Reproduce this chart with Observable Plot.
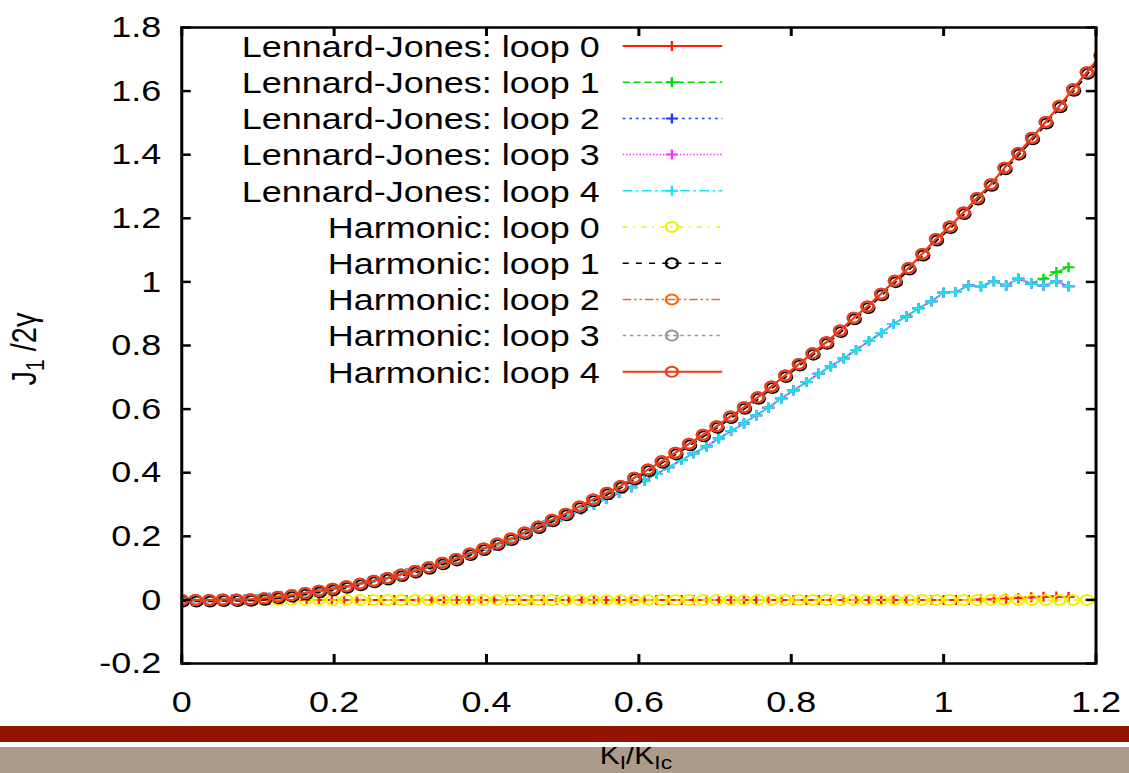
<!DOCTYPE html>
<html><head><meta charset="utf-8">
<script src="https://cdn.jsdelivr.net/npm/d3@7"></script>
<script src="https://cdn.jsdelivr.net/npm/@observablehq/plot@0.6"></script>
<style>
html,body{margin:0;padding:0;background:#fff;}
#wrap{position:relative;width:1129px;height:773px;overflow:hidden;}
#tan{position:absolute;left:0;top:747px;width:1129px;height:26px;background:#ad9b8a;z-index:0;}
#gap{position:absolute;left:0;top:742px;width:1129px;height:5px;background:#fff;z-index:2;}
#red{position:absolute;left:0;top:726px;width:1129px;height:16px;background:#931200;z-index:2;}
#chart{position:absolute;left:0;top:0;z-index:1;}
</style></head><body>
<div id="wrap"><div id="tan"></div><div id="chart"></div><div id="gap"></div><div id="red"></div></div>
<script>
// ---- data ----
const xTicks = [0, 0.2, 0.4, 0.6, 0.8, 1, 1.2];
const yTicks = [-0.2, 0, 0.2, 0.4, 0.6, 0.8, 1, 1.2, 1.4, 1.6, 1.8];

// K_I/K_Ic sample positions, Lennard-Jones runs
const ljX = [0, 0.016, 0.033, 0.049, 0.066, 0.082, 0.098, 0.115, 0.131, 0.148,
  0.164, 0.180, 0.197, 0.213, 0.230, 0.246, 0.262, 0.279, 0.295, 0.311,
  0.328, 0.344, 0.361, 0.377, 0.393, 0.410, 0.426, 0.443, 0.459, 0.475,
  0.492, 0.508, 0.525, 0.541, 0.557, 0.574, 0.590, 0.607, 0.623, 0.639,
  0.656, 0.672, 0.689, 0.705, 0.721, 0.738, 0.754, 0.770, 0.787, 0.803,
  0.820, 0.836, 0.852, 0.869, 0.885, 0.902, 0.918, 0.934, 0.951, 0.967,
  0.984, 1.000, 1.016, 1.033, 1.049, 1.066, 1.082, 1.098, 1.115, 1.131,
  1.148, 1.164];
const ljLoop0 = [0,0,0,0,0,0,0,0,0,0, 0,0,0,0,0,0,0,0,0,0, 0,0,0,0,0,0,0,0,0,0,
  0,0,0,0,0,0,0,0,0,0, 0,0,0,0,0,0,0,0,0,0, 0,0,0,0,0,0,0,0,0,0,
  0,0,0,0,0.001,0.002,0.004,0.006,0.008,0.010, 0.011,0.009];
const ljLoop4 = [0, 0, 0, 0.001, 0.001, 0.002, 0.003, 0.007, 0.011, 0.016,
  0.022, 0.029, 0.035, 0.041, 0.050, 0.058, 0.065, 0.074, 0.084, 0.094,
  0.105, 0.117, 0.129, 0.144, 0.158, 0.172, 0.186, 0.201, 0.217, 0.234,
  0.250, 0.266, 0.283, 0.300, 0.318, 0.336, 0.354, 0.375, 0.396, 0.417,
  0.440, 0.461, 0.483, 0.508, 0.531, 0.555, 0.581, 0.604, 0.634, 0.659,
  0.685, 0.711, 0.735, 0.760, 0.786, 0.814, 0.839, 0.868, 0.891, 0.917,
  0.939, 0.966, 0.968, 0.989, 0.986, 1.002, 0.989, 1.010, 0.994, 0.989,
  1.001, 0.986];
const ljLoop1 = [0, 0, 0, 0.001, 0.001, 0.002, 0.003, 0.007, 0.011, 0.016,
  0.022, 0.029, 0.035, 0.041, 0.050, 0.058, 0.065, 0.074, 0.084, 0.094,
  0.105, 0.117, 0.129, 0.144, 0.158, 0.172, 0.186, 0.201, 0.217, 0.234,
  0.250, 0.266, 0.283, 0.300, 0.318, 0.336, 0.354, 0.375, 0.396, 0.417,
  0.440, 0.461, 0.483, 0.508, 0.531, 0.555, 0.581, 0.604, 0.634, 0.659,
  0.685, 0.711, 0.735, 0.760, 0.786, 0.814, 0.839, 0.868, 0.891, 0.917,
  0.939, 0.966, 0.968, 0.989, 0.986, 1.002, 0.989, 1.010, 0.996, 1.010,
  1.031, 1.046];
const ljLoop2 = ljLoop4;
const ljLoop3 = ljLoop4;

// Harmonic runs
const hX = [0, 0.018, 0.036, 0.054, 0.072, 0.090, 0.108, 0.126, 0.144, 0.162,
  0.180, 0.198, 0.216, 0.234, 0.252, 0.270, 0.288, 0.306, 0.324, 0.342,
  0.360, 0.378, 0.396, 0.414, 0.432, 0.450, 0.468, 0.486, 0.504, 0.522,
  0.540, 0.558, 0.576, 0.594, 0.612, 0.630, 0.648, 0.666, 0.684, 0.702,
  0.720, 0.738, 0.756, 0.774, 0.792, 0.810, 0.828, 0.846, 0.864, 0.882,
  0.900, 0.918, 0.936, 0.954, 0.972, 0.990, 1.008, 1.026, 1.044, 1.062,
  1.080, 1.098, 1.116, 1.134, 1.152, 1.170, 1.188, 1.206];
const hLoop0 = [0,0,0,0,0,0,0,0,0,0, 0,0,0,0,0,0,0,0,0,0, 0,0,0,0,0,0,0,0,0,0,
  0,0,0,0,0,0,0,0,0,0, 0,0,0,0,0,0,0,0,0,0, 0,0,0,0,0,0,0,0,0,0,
  0,0,0,0,0,0,0,0];
const hLoop4 = [0, 0, 0, 0.001, 0.001, 0.002, 0.005, 0.010, 0.015, 0.022,
  0.029, 0.035, 0.043, 0.051, 0.060, 0.069, 0.080, 0.091, 0.103, 0.117,
  0.129, 0.146, 0.162, 0.177, 0.193, 0.212, 0.231, 0.252, 0.271, 0.294,
  0.316, 0.337, 0.358, 0.384, 0.410, 0.436, 0.463, 0.491, 0.519, 0.546,
  0.577, 0.606, 0.637, 0.671, 0.706, 0.742, 0.776, 0.810, 0.847, 0.887,
  0.923, 0.963, 1.004, 1.044, 1.088, 1.135, 1.174, 1.218, 1.264, 1.307,
  1.359, 1.405, 1.453, 1.503, 1.554, 1.606, 1.659, 1.712];
const hLoop1 = hLoop4, hLoop2 = hLoop4, hLoop3 = hLoop4;

const seriesNames = ["Lennard-Jones: loop 0","Lennard-Jones: loop 1","Lennard-Jones: loop 2",
  "Lennard-Jones: loop 3","Lennard-Jones: loop 4","Harmonic: loop 0","Harmonic: loop 1",
  "Harmonic: loop 2","Harmonic: loop 3","Harmonic: loop 4"];

// ---- styles ----
const colors = ["#ff1e00","#00e000","#1e3cff","#ff30ff","#18e4f0","#f2f200","#000000","#ff6410","#999999","#ee3a16"];
const dashes = [null,"6,3","2.2,3.3","1.2,1.6","8,3,2,3","4,5,1.5,5","5,6","7,2.5,2,2.5,2,2.5","3,3",null];

const plusSym = {draw(ctx, size) { const r = Math.sqrt(size / Math.PI);
  ctx.moveTo(-r, 0); ctx.lineTo(r, 0); ctx.moveTo(0, -r); ctx.lineTo(0, r); }};

const seriesData = [
  [ljX, ljLoop0], [ljX, ljLoop1], [ljX, ljLoop2], [ljX, ljLoop3], [ljX, ljLoop4],
  [hX, hLoop0], [hX, hLoop1], [hX, hLoop2], [hX, hLoop3], [hX, hLoop4]
].map(([xs, ys]) => xs.map((x, i) => ({x, y: ys[i]})));

const fmt = d => String(Math.round(d * 10) / 10);
const W = 941, H = 773, ML = 151, MR = 28, MT = 27, MB = 110;
const innerW = W - ML - MR, innerH = H - MT - MB;
const font = "'Liberation Sans', Arial, Helvetica, sans-serif";

const marks = [];
seriesData.forEach((data, k) => {
  const isLJ = k < 5;
  const off = k === 6 ? {dx: 0.8, dy: 1.5} : {};
  marks.push(Plot.line(data, {x: "x", y: "y", stroke: colors[k], strokeWidth: k === 9 || k === 0 ? 2 : 1.5,
    strokeDasharray: dashes[k], clip: true, ...off}));
  marks.push(Plot.dot(data, {x: "x", y: "y", stroke: colors[k], strokeWidth: 2, r: 5,
    symbol: isLJ ? plusSym : "circle", clip: true, ...off}));
});

const svg = Plot.plot({
  width: W, height: H, marginLeft: ML, marginRight: MR, marginTop: MT, marginBottom: MB,
  style: {background: "transparent", fontFamily: font, fontSize: "30px", overflow: "visible"},
  x: {domain: [0, 1.2]},
  y: {domain: [-0.2, 1.8]},
  marks: [
    ...marks,
    Plot.ruleX(xTicks, {x: d => d, insetTop: innerH - 9, stroke: "black", strokeWidth: 2.5}),
    Plot.ruleX(xTicks, {x: d => d, insetBottom: innerH - 9, stroke: "black", strokeWidth: 2.5}),
    Plot.ruleY(yTicks, {y: d => d, insetRight: innerW - 8, stroke: "black", strokeWidth: 2.5}),
    Plot.ruleY(yTicks, {y: d => d, insetLeft: innerW - 8, stroke: "black", strokeWidth: 2.5}),
    Plot.frame({stroke: "black", strokeWidth: 2.5}),
    Plot.axisX(xTicks, {tickSize: 0, tickPadding: 27, fontSize: 30, tickFormat: fmt, label: null, fill: "black"}),
    Plot.axisY(yTicks, {tickSize: 0, tickPadding: 17, fontSize: 30, tickFormat: fmt, label: null, fill: "black"})
  ]
});

// legend (key), drawn in the same SVG
const g = d3.select(svg).append("g").attr("font-family", font).attr("font-size", 30);
seriesNames.forEach((name, k) => {
  const y = 46 + k * 36.2;
  g.append("text").attr("x", 500).attr("y", y).attr("dy", "0.36em").attr("text-anchor", "end")
    .attr("fill", "black").text(name);
  g.append("line").attr("x1", 519).attr("x2", 602).attr("y1", y).attr("y2", y)
    .attr("stroke", colors[k]).attr("stroke-width", (k === 0 || k === 9) ? 2 : 1.5)
    .attr("stroke-dasharray", dashes[k]);
  const sym = k < 5 ? d3.symbol().type(plusSym).size(25 * Math.PI) : d3.symbol().type(d3.symbolCircle).size(25 * Math.PI);
  g.append("path").attr("transform", `translate(560,${y})`).attr("d", sym())
    .attr("fill", "none").attr("stroke", colors[k]).attr("stroke-width", 2);
});

// axis titles
const yl = d3.select(svg).append("text").attr("font-family", font).attr("font-size", 29)
  .attr("transform", "translate(30,349) rotate(-90)").attr("text-anchor", "middle").attr("fill", "black");
yl.append("tspan").text("J");
yl.append("tspan").attr("dy", 7).attr("font-size", 21).text("1");
yl.append("tspan").attr("dy", -7).text(" /2γ");

const xl = d3.select(svg).append("text").attr("font-family", font).attr("font-size", 25)
  .attr("x", ML + innerW / 2 - 2).attr("y", 764).attr("text-anchor", "middle").attr("fill", "black");
xl.append("tspan").text("K");
xl.append("tspan").attr("dy", 5).attr("font-size", 19).text("I");
xl.append("tspan").attr("dy", -5).text("/K");
xl.append("tspan").attr("dy", 5).attr("font-size", 19).text("Ic");

// the reference is horizontally stretched: show the 941-wide drawing across 1129px
svg.setAttribute("preserveAspectRatio", "none");
svg.setAttribute("width", 1129);
svg.style.width = "1129px";
svg.style.height = "773px";
svg.style.maxWidth = "none";
document.getElementById("chart").appendChild(svg);
</script>
</body></html>
